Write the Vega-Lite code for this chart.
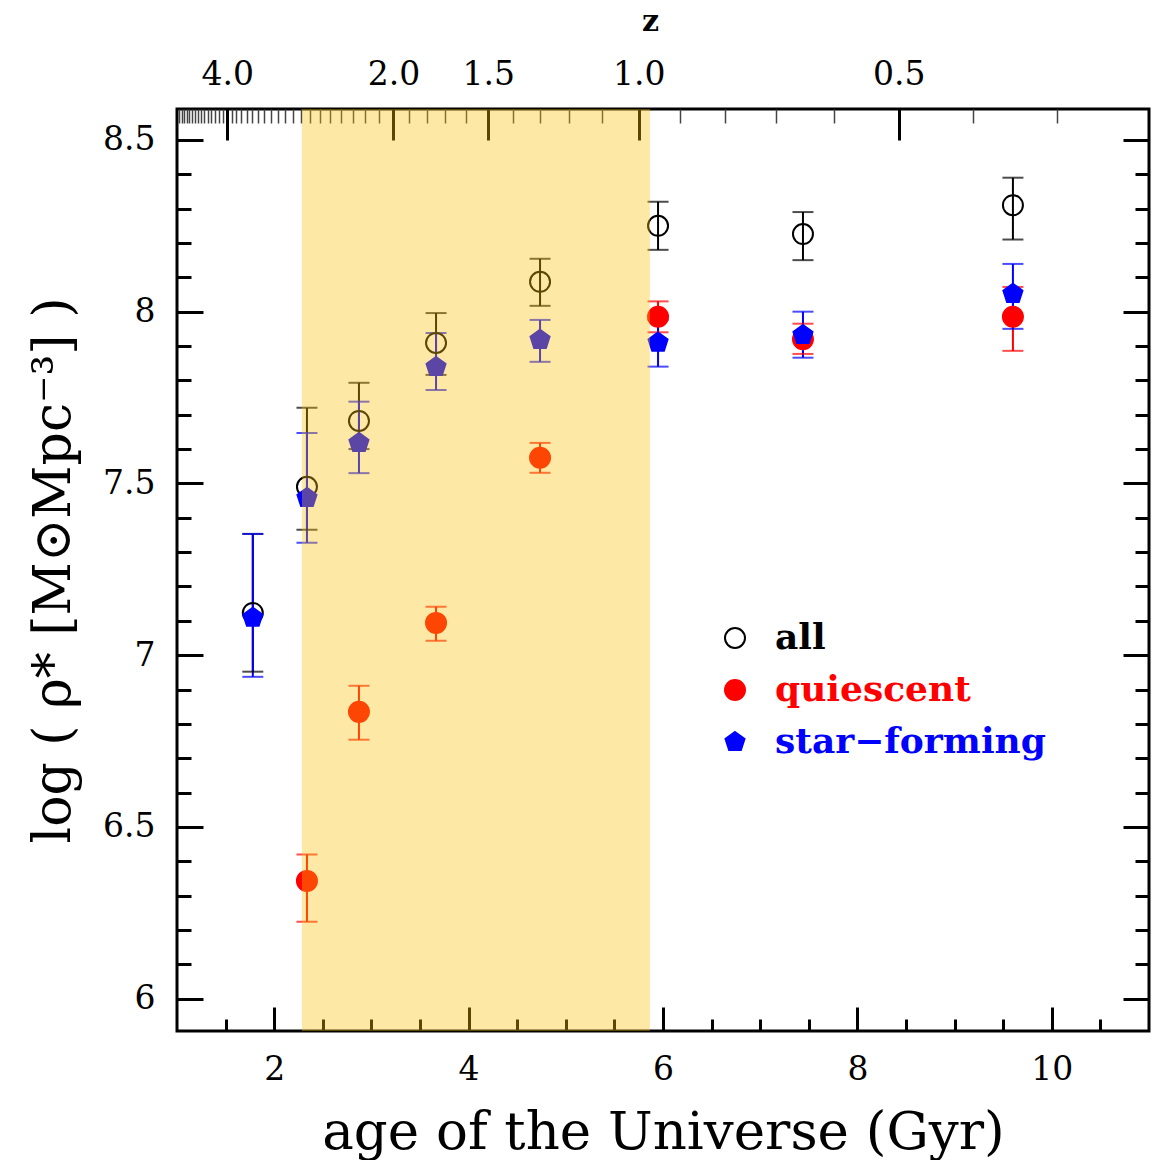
{
  "$schema": "https://vega.github.io/schema/vega-lite/v6.json",
  "width": 972,
  "height": 922,
  "autosize": "none",
  "padding": {"left": 177, "top": 109, "right": 5, "bottom": 129},
  "background": "white",
  "view": {"stroke": "black", "strokeWidth": 3},
  "config": {
    "axis": {
      "domain": false,
      "grid": false,
      "tickColor": "black",
      "tickWidth": 3,
      "labelFont": "DejaVu Serif",
      "labelFontSize": 33,
      "labelColor": "black",
      "titleFont": "DejaVu Serif",
      "titleFontWeight": "normal",
      "titleColor": "black"
    },
    "legend": {
      "title": null,
      "orient": "none",
      "legendX": 540,
      "legendY": 511,
      "labelFont": "DejaVu Serif",
      "labelFontSize": 36,
      "labelFontWeight": "bold",
      "labelLimit": 500,
      "symbolSize": 400,
      "symbolStrokeWidth": 2,
      "rowPadding": 16,
      "labelOffset": 22
    }
  },
  "datasets": {
    "rho": [
      {"age": 1.78, "rho": 7.123, "lo": 6.952, "hi": 7.353, "sample": "all"},
      {"age": 2.337, "rho": 7.49, "lo": 7.365, "hi": 7.72, "sample": "all"},
      {"age": 2.872, "rho": 7.682, "lo": 7.6, "hi": 7.793, "sample": "all"},
      {"age": 3.665, "rho": 7.909, "lo": 7.816, "hi": 7.996, "sample": "all"},
      {"age": 4.735, "rho": 8.087, "lo": 8.017, "hi": 8.154, "sample": "all"},
      {"age": 5.949, "rho": 8.25, "lo": 8.18, "hi": 8.32, "sample": "all"},
      {"age": 7.44, "rho": 8.226, "lo": 8.15, "hi": 8.29, "sample": "all"},
      {"age": 9.6, "rho": 8.31, "lo": 8.21, "hi": 8.39, "sample": "all"},
      {"age": 2.337, "rho": 6.343, "lo": 6.224, "hi": 6.42, "sample": "quiescent"},
      {"age": 2.872, "rho": 6.835, "lo": 6.754, "hi": 6.911, "sample": "quiescent"},
      {"age": 3.665, "rho": 7.094, "lo": 7.042, "hi": 7.141, "sample": "quiescent"},
      {"age": 4.735, "rho": 7.575, "lo": 7.531, "hi": 7.618, "sample": "quiescent"},
      {"age": 5.949, "rho": 7.985, "lo": 7.94, "hi": 8.03, "sample": "quiescent"},
      {"age": 7.44, "rho": 7.92, "lo": 7.877, "hi": 7.965, "sample": "quiescent"},
      {"age": 9.6, "rho": 7.985, "lo": 7.886, "hi": 8.072, "sample": "quiescent"},
      {"age": 1.78, "rho": 7.109, "lo": 6.937, "hi": 7.353, "sample": "star-forming"},
      {"age": 2.337, "rho": 7.458, "lo": 7.327, "hi": 7.647, "sample": "star-forming"},
      {"age": 2.872, "rho": 7.618, "lo": 7.53, "hi": 7.738, "sample": "star-forming"},
      {"age": 3.665, "rho": 7.839, "lo": 7.772, "hi": 7.938, "sample": "star-forming"},
      {"age": 4.735, "rho": 7.918, "lo": 7.854, "hi": 7.976, "sample": "star-forming"},
      {"age": 5.949, "rho": 7.91, "lo": 7.84, "hi": 7.976, "sample": "star-forming"},
      {"age": 7.44, "rho": 7.932, "lo": 7.866, "hi": 8.0, "sample": "star-forming"},
      {"age": 9.6, "rho": 8.052, "lo": 7.95, "hi": 8.139, "sample": "star-forming"}
    ]
  },
  "data": {"name": "rho"},
  "layer": [
    {
      "mark": {"type": "rule", "strokeWidth": 2},
      "encoding": {
        "x": {
          "field": "age", "type": "quantitative",
          "scale": {"domain": [1, 11], "nice": false, "zero": false},
          "axis": {
            "orient": "bottom", "values": [2, 4, 6, 8, 10], "tickSize": -24,
            "labelPadding": 46, "title": "age of the Universe (Gyr)",
            "titleFontSize": 53, "titlePadding": 20
          }
        },
        "y": {
          "field": "lo", "type": "quantitative",
          "scale": {"domain": [5.906, 8.59], "nice": false, "zero": false},
          "axis": {
            "orient": "left", "values": [6, 6.5, 7, 7.5, 8, 8.5], "tickSize": -26,
            "labelPadding": 48, "labelExpr": "'' + datum.value",
            "title": "log ( ρ* [M⊙Mpc⁻³] )", "titleFontSize": 52, "titlePadding": 22
          }
        },
        "y2": {"field": "hi"},
        "color": {
          "field": "sample", "type": "nominal", "legend": null,
          "scale": {"domain": ["star-forming", "quiescent", "all"], "range": ["#0000ff", "#ff0000", "#000000"]}
        }
      }
    },
    {
      "mark": {"type": "tick", "orient": "horizontal", "thickness": 2, "size": 21},
      "encoding": {
        "x": {
          "field": "age", "type": "quantitative",
          "scale": {"domain": [1, 11], "nice": false, "zero": false},
          "axis": {
            "orient": "bottom", "values": [1.5, 2.5, 3, 3.5, 4.5, 5, 5.5, 6.5, 7, 7.5, 8.5, 9, 9.5, 10.5],
            "tickSize": -12, "labels": false, "title": null
          }
        },
        "y": {
          "field": "lo", "type": "quantitative",
          "scale": {"domain": [5.906, 8.59], "nice": false, "zero": false},
          "axis": {
            "orient": "left",
            "values": [6.1, 6.2, 6.3, 6.4, 6.6, 6.7, 6.8, 6.9, 7.1, 7.2, 7.3, 7.4, 7.6, 7.7, 7.8, 7.9, 8.1, 8.2, 8.3, 8.4],
            "tickSize": -14, "labels": false, "title": null
          }
        },
        "color": {"field": "sample", "type": "nominal", "legend": null}
      }
    },
    {
      "mark": {"type": "tick", "orient": "horizontal", "thickness": 2, "size": 21},
      "encoding": {
        "x": {
          "field": "age", "type": "quantitative",
          "scale": {"domain": [1, 11], "nice": false, "zero": false},
          "axis": {
            "orient": "top", "values": [1.516, 3.227, 4.201, 5.751, 8.426], "tickSize": -31,
            "labelPadding": 49,
            "labelExpr": "datum.value < 2 ? '4.0' : datum.value < 4 ? '2.0' : datum.value < 5 ? '1.5' : datum.value < 7 ? '1.0' : '0.5'",
            "title": "z", "titleFontSize": 30, "titleFontWeight": "bold", "titlePadding": 22, "titleX": 473
          }
        },
        "y": {
          "field": "hi", "type": "quantitative",
          "scale": {"domain": [5.906, 8.59], "nice": false, "zero": false},
          "axis": {
            "orient": "right", "values": [6, 6.5, 7, 7.5, 8, 8.5], "tickSize": -26,
            "labels": false, "title": null
          }
        },
        "color": {"field": "sample", "type": "nominal", "legend": null}
      }
    },
    {
      "mark": {"type": "point", "size": 400, "strokeWidth": 2, "opacity": 1},
      "encoding": {
        "x": {
          "field": "age", "type": "quantitative",
          "scale": {"domain": [1, 11], "nice": false, "zero": false},
          "axis": {
            "orient": "top", "tickSize": -14, "tickWidth": 1.5, "tickColor": "#444444",
            "labels": false, "title": null,
            "values": [10.049, 9.185, 7.757, 7.165, 6.639, 6.171, 5.375, 5.036, 4.73, 4.453, 3.971, 3.76, 3.567, 3.39, 3.076, 2.936, 2.806, 2.686, 2.573, 2.469, 2.371, 2.279, 2.193, 2.113, 2.037, 1.965, 1.897, 1.834, 1.774, 1.716, 1.662, 1.611, 1.562, 1.472, 1.43, 1.39, 1.352, 1.315, 1.28, 1.247, 1.215, 1.184, 1.155, 1.127, 1.1, 1.074, 1.049, 1.024]
          }
        },
        "y": {
          "field": "rho", "type": "quantitative",
          "scale": {"domain": [5.906, 8.59], "nice": false, "zero": false},
          "axis": {
            "orient": "right",
            "values": [6.1, 6.2, 6.3, 6.4, 6.6, 6.7, 6.8, 6.9, 7.1, 7.2, 7.3, 7.4, 7.6, 7.7, 7.8, 7.9, 8.1, 8.2, 8.3, 8.4],
            "tickSize": -14, "labels": false, "title": null
          }
        },
        "shape": {
          "field": "sample", "type": "nominal",
          "scale": {"domain": ["all", "quiescent", "star-forming"], "range": ["circle", "circle", "M0,-1L0.951,-0.309L0.588,0.809L-0.588,0.809L-0.951,-0.309Z"]},
          "legend": {
            "labelExpr": "datum.label === 'star-forming' ? 'star−forming' : datum.label",
            "labelColor": {"expr": "datum.value === 'all' ? '#000000' : datum.value === 'quiescent' ? '#ff0000' : '#0000ff'"}
          }
        },
        "stroke": {
          "field": "sample", "type": "nominal",
          "scale": {"domain": ["all", "quiescent", "star-forming"], "range": ["#000000", "#ff0000", "#0000ff"]},
          "legend": {
            "labelExpr": "datum.label === 'star-forming' ? 'star−forming' : datum.label",
            "labelColor": {"expr": "datum.value === 'all' ? '#000000' : datum.value === 'quiescent' ? '#ff0000' : '#0000ff'"}
          }
        },
        "fill": {
          "field": "sample", "type": "nominal",
          "scale": {"domain": ["all", "quiescent", "star-forming"], "range": ["rgba(0,0,0,0)", "#ff0000", "#0000ff"]},
          "legend": {
            "labelExpr": "datum.label === 'star-forming' ? 'star−forming' : datum.label",
            "labelColor": {"expr": "datum.value === 'all' ? '#000000' : datum.value === 'quiescent' ? '#ff0000' : '#0000ff'"}
          }
        }
      }
    },
    {
      "data": {"values": [{"start": 2.285, "end": 5.865}]},
      "mark": {"type": "rect", "color": "#f9c00a", "opacity": 0.365},
      "encoding": {
        "x": {"field": "start", "type": "quantitative", "scale": {"domain": [1, 11], "nice": false, "zero": false}, "axis": null},
        "x2": {"field": "end"}
      }
    }
  ],
  "resolve": {"axis": {"x": "independent", "y": "independent"}}
}
